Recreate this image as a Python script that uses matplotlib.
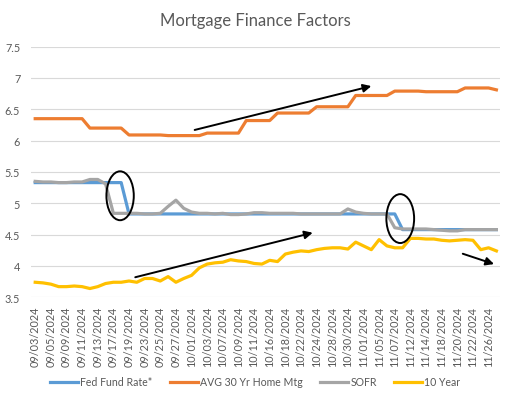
import matplotlib
matplotlib.use("Agg")
import matplotlib.pyplot as plt
from matplotlib.patches import Ellipse

plt.rcParams['font.family'] = ['Lato', 'DejaVu Sans']

# trading days shown on the category axis
dates = ["09/03/2024", "09/04/2024", "09/05/2024", "09/06/2024", "09/09/2024", "09/10/2024",
         "09/11/2024", "09/12/2024", "09/13/2024", "09/16/2024", "09/17/2024", "09/18/2024",
         "09/19/2024", "09/20/2024", "09/23/2024", "09/24/2024", "09/25/2024", "09/26/2024",
         "09/27/2024", "09/30/2024", "10/01/2024", "10/02/2024", "10/03/2024", "10/04/2024",
         "10/07/2024", "10/08/2024", "10/09/2024", "10/10/2024", "10/11/2024", "10/15/2024",
         "10/16/2024", "10/17/2024", "10/18/2024", "10/21/2024", "10/22/2024", "10/23/2024",
         "10/24/2024", "10/25/2024", "10/28/2024", "10/29/2024", "10/30/2024", "10/31/2024",
         "11/01/2024", "11/04/2024", "11/05/2024", "11/06/2024", "11/07/2024", "11/08/2024",
         "11/12/2024", "11/13/2024", "11/14/2024", "11/15/2024", "11/18/2024", "11/19/2024",
         "11/20/2024", "11/21/2024", "11/22/2024", "11/25/2024", "11/26/2024", "11/27/2024"]

fed_funds = [5.33, 5.33, 5.33, 5.33, 5.33, 5.33, 5.33, 5.33, 5.33, 5.33, 5.33, 5.33,
             4.83, 4.83, 4.83, 4.83, 4.83, 4.83, 4.83, 4.83, 4.83, 4.83, 4.83, 4.83,
             4.83, 4.83, 4.83, 4.83, 4.83, 4.83, 4.83, 4.83, 4.83, 4.83, 4.83, 4.83,
             4.83, 4.83, 4.83, 4.83, 4.83, 4.83, 4.83, 4.83, 4.83, 4.83, 4.83, 4.58,
             4.58, 4.58, 4.58, 4.58, 4.58, 4.58, 4.58, 4.58, 4.58, 4.58, 4.58, 4.58]

mortgage = [6.35, 6.35, 6.35, 6.35, 6.35, 6.35, 6.35, 6.20, 6.20, 6.20, 6.20, 6.20,
            6.09, 6.09, 6.09, 6.09, 6.09, 6.08, 6.08, 6.08, 6.08, 6.08, 6.12, 6.12,
            6.12, 6.12, 6.12, 6.32, 6.32, 6.32, 6.32, 6.44, 6.44, 6.44, 6.44, 6.44,
            6.54, 6.54, 6.54, 6.54, 6.54, 6.72, 6.72, 6.72, 6.72, 6.72, 6.79, 6.79,
            6.79, 6.79, 6.78, 6.78, 6.78, 6.78, 6.78, 6.84, 6.84, 6.84, 6.84, 6.81]

sofr = [5.35, 5.34, 5.34, 5.33, 5.33, 5.34, 5.34, 5.38, 5.38, 5.31, 4.84, 4.84,
        4.84, 4.84, 4.83, 4.83, 4.84, 4.95, 5.05, 4.92, 4.86, 4.84, 4.84, 4.83,
        4.84, 4.82, 4.82, 4.83, 4.85, 4.85, 4.84, 4.84, 4.84, 4.84, 4.83, 4.83,
        4.83, 4.83, 4.83, 4.83, 4.91, 4.86, 4.84, 4.83, 4.83, 4.83, 4.61, 4.59,
        4.59, 4.59, 4.59, 4.58, 4.57, 4.56, 4.56, 4.58, 4.58, 4.58, 4.58, 4.58]

ten_year = [3.74, 3.73, 3.71, 3.67, 3.67, 3.68, 3.67, 3.64, 3.67, 3.72, 3.74, 3.74,
            3.76, 3.74, 3.80, 3.80, 3.76, 3.83, 3.74, 3.80, 3.85, 3.97, 4.03, 4.05,
            4.06, 4.10, 4.08, 4.07, 4.04, 4.03, 4.09, 4.07, 4.19, 4.22, 4.24, 4.23,
            4.26, 4.28, 4.29, 4.29, 4.27, 4.38, 4.32, 4.26, 4.42, 4.32, 4.29, 4.29,
            4.44, 4.44, 4.43, 4.43, 4.41, 4.40, 4.41, 4.42, 4.41, 4.26, 4.29, 4.24]

series_names = ["Fed Fund Rate*", "AVG 30 Yr Home Mtg", "SOFR", "10 Year"]
colors = ["#5B9BD5", "#ED7D31", "#A5A5A5", "#FFC000"]
text_color = "#595959"

W, H = 511, 402
fig = plt.figure(figsize=(W / 100, H / 100), dpi=100)
ax = fig.add_axes([31.3 / W, 1 - 298.3 / H, (500.3 - 31.3) / W, (298.3 - 47.6) / H])

x = list(range(len(dates)))
for vals, name, c in zip([fed_funds, mortgage, sofr, ten_year], series_names, colors):
    ax.plot(x, vals, color=c, lw=2.3, label=name, solid_joinstyle='round')

ax.set_xlim(-0.5, len(dates) - 0.5)
ax.set_ylim(3.5, 7.5)
yt = [3.5, 4, 4.5, 5, 5.5, 6, 6.5, 7, 7.5]
ax.set_yticks(yt)
ax.set_yticklabels([f"{v:g}" for v in yt])
ax.set_xticks(x[::2])
ax.set_xticklabels(dates[::2], rotation=90)
ax.tick_params(axis='both', length=0, colors=text_color, labelsize=7.8)
ax.tick_params(axis='y', pad=8)
ax.tick_params(axis='x', pad=6)
ax.grid(axis='y', color="#D9D9D9", lw=0.8)
ax.set_axisbelow(True)
for s in ax.spines.values():
    s.set_visible(False)

# hand-drawn annotations
arrow_kw = dict(arrowstyle='-|>', color='black', lw=1.4, mutation_scale=12, shrinkA=0, shrinkB=0)
ax.annotate("", xy=(43.0, 6.87), xytext=(20.4, 6.17), arrowprops=arrow_kw)
ax.annotate("", xy=(35.5, 4.53), xytext=(12.8, 3.82), arrowprops=arrow_kw)
ax.annotate("", xy=(58.7, 4.03), xytext=(54.7, 4.195), arrowprops=arrow_kw)
ax.add_patch(Ellipse((10.86, 5.12), 3.5, 0.78, fill=False, ec='black', lw=1.4, zorder=5))
ax.add_patch(Ellipse((46.7, 4.756), 3.55, 0.78, fill=False, ec='black', lw=1.4, zorder=5))

fig.text(0.5, 1 - 21 / H, "Mortgage Finance Factors", ha='center', va='center',
         fontsize=12, color=text_color)

fig.legend(loc='center', bbox_to_anchor=(0.5, 1 - 383 / H), ncol=4, frameon=False,
           fontsize=7.6, labelcolor=text_color, handlelength=2.65, handletextpad=0.2,
           columnspacing=1.65)

fig.savefig("out.png", dpi=100)
